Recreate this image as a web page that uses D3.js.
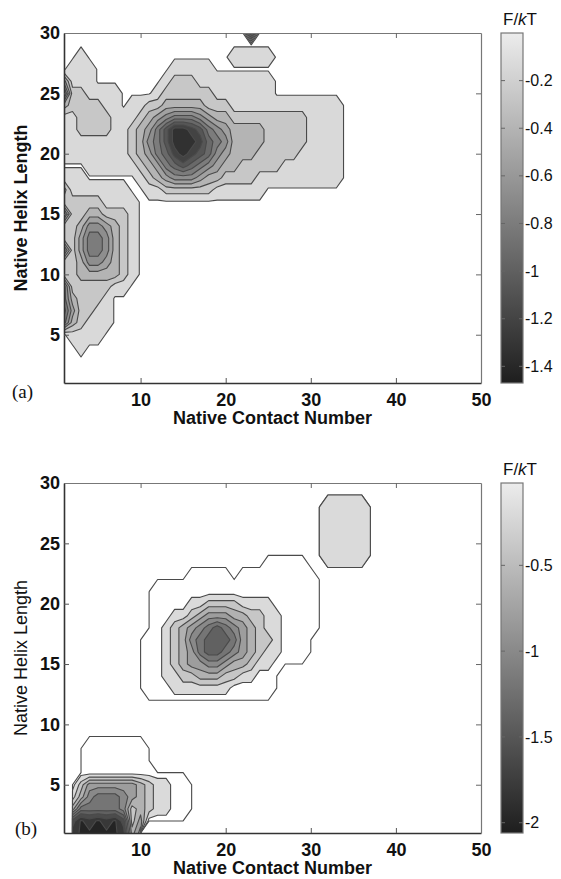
<!DOCTYPE html>
<html>
<head>
<meta charset="utf-8">
<script src="https://cdn.jsdelivr.net/npm/d3@7"></script>
<style>
  body { margin: 0; background: #fff; }
  svg text { font-family: "Liberation Sans", Arial, sans-serif; }
</style>
</head>
<body>
<svg id="chart" width="561" height="879"></svg>
<script>
// axes: native contact number 1..50, native helix length 1..30
const xTicks = [10, 20, 30, 40, 50];
const yTicks = [5, 10, 15, 20, 25, 30];

// ---- panel (a) ----
// contour levels of F/kT (top level first)
const levelsA = [-0.134, -0.267, -0.401, -0.535, -0.668, -0.802, -0.936, -1.069, -1.203, -1.336];
const rangeA = [-1.47, 0];
const cbTicksA = [-0.2, -0.4, -0.6, -0.8, -1, -1.2, -1.4];
const emptyA = -0.122;   // empty bins sit just above the top level
// one row per helix length, 30 at the top; [first contact number, band digits]
// a digit k means the bin lies between level k and level k+1
const gridA = [
  [[23, "6"]],
  [],
  [[3, "0"], [21, "00000"]],
  [[2, "000"], [14, "00000"]],
  [[1, "3000"], [13, "0111000000000"]],
  [[1, "6110000"], [12, "01111110000000"]],
  [[1, "2111100"], [9, "0011222221110000000000000"]],
  [[1, "001111000123455543221111111110000"]],
  [[1, "001111001235799875432222111110000"]],
  [[1, "000000001245799986542222111110000"]],
  [[1, "000000001235689876432221111100000"]],
  [[4, "000000123567654322111110000000"]],
  [[1, "000"], [10, "012344432211110000000000"]],
  [[1, "20000000"], [11, "00111111000000"]],
  [[1, "111110000"]],
  [[1, "511221110"]],
  [[1, "112443210"]],
  [[1, "113554210"]],
  [[1, "513554210"]],
  [[1, "112443210"]],
  [[1, "112222210"]],
  [[1, "51111100"]],
  [[1, "521110"]],
  [[1, "631100"]],
  [[1, "521000"]],
  [[2, "0000"]],
  [[3, "0"]],
  [],
  [],
  []
];

// ---- panel (b) ----
const levelsB = [-0.02, -0.2, -0.4, -0.6, -0.8, -1.0, -1.2, -1.4, -1.6, -1.8, -2.0];
const rangeB = [-2.06, -0.02];
const cbTicksB = [-0.5, -1, -1.5, -2];
const emptyB = 1000;     // empty bins: no data, edge runs through the data points
const gridB = [
  [],
  [[32, "11111"]],
  [[31, "1111111"]],
  [[31, "1111111"]],
  [[31, "1111111"]],
  [[31, "1111111"]],
  [[25, "00000"], [31, "1111111"]],
  [[16, "00000"], [22, "000000000"], [32, "11111"]],
  [[12, "00000000000000000000"]],
  [[11, "000000000000000000000"]],
  [[11, "000001122221111000000"]],
  [[11, "000112344433221100000"]],
  [[11, "001234567654321100000"]],
  [[10, "000123567776432210000"]],
  [[10, "000123467765432110000"]],
  [[10, "00012344554332110000"]],
  [[10, "00011223332211000"]],
  [[10, "00001111111000000"]],
  [[11, "000000000000000"]],
  [],
  [],
  [[4, "0000000"]],
  [[3, "000000000"]],
  [[3, "000000000"]],
  [[3, "0000000000000"]],
  [[2, "024444443211000"]],
  [[2, "135666543211000"]],
  [[2, "366666523211000"]],
  [[2, "8a9a9a82400000"]],
  [[2, "9aaaaa935"]]
];

const FONT = "Liberation Sans, Arial, sans-serif";

function gridValues(rows, levels, zMin, empty) {
  const values = new Array(50 * 30).fill(empty);
  rows.forEach((segs, j) => {
    segs.forEach(([x0, bands]) => {
      [...bands].forEach((ch, k) => {
        if (ch === ".") return;
        const b = parseInt(ch, 16);
        const lower = b + 1 < levels.length ? levels[b + 1] : zMin;
        values[j * 50 + (x0 - 1 + k)] = (levels[b] + lower) / 2;
      });
    });
  });
  return values;
}

function drawPanel(svg, p) {
  const top = p.top, bottom = p.top + 350;
  const x = d3.scaleLinear().domain([1, 50]).range([64, 481]);
  const y = d3.scaleLinear().domain([1, 30]).range([bottom, top]);
  const gray = d3.scaleLinear().domain(p.range).range(["#1e1e1e", "#ececec"]);
  const fillFor = l => l >= p.range[1] ? "#ffffff" : gray(l);

  // filled contours (work on -F so that deeper wells are "higher")
  const values = gridValues(p.grid, p.levels, p.range[0], p.empty);
  const contours = d3.contours()
    .size([50, 30])
    .thresholds(p.levels.map(l => -l))(values.map(v => -v));

  const path = d3.geoPath(d3.geoTransform({
    point: function (u, v) { this.stream.point(x(u + 0.5), y(30.5 - v)); }
  }));

  svg.append("clipPath").attr("id", "clip" + p.name)
    .append("rect")
    .attr("x", 64).attr("y", top)
    .attr("width", 417).attr("height", 350);

  svg.append("g")
    .attr("clip-path", `url(#clip${p.name})`)
    .selectAll("path")
    .data(contours)
    .join("path")
    .attr("d", path)
    .attr("fill", (d, i) => fillFor(p.levels[i]))
    .attr("stroke", "#4a4a4a")
    .attr("stroke-width", 1.1)
    .attr("stroke-linejoin", "round");

  // axes, MATLAB style: ticks inside, box all round
  const xAxis = d3.axisBottom(x).tickValues(xTicks)
    .tickSizeInner(-5).tickSizeOuter(0).tickPadding(10);
  const yAxis = d3.axisLeft(y).tickValues(yTicks)
    .tickSizeInner(-5).tickSizeOuter(0).tickPadding(4);
  const xTop = d3.axisTop(x).tickValues(xTicks.slice(0, -1))
    .tickSizeInner(-5).tickSizeOuter(0).tickFormat("");
  const yRight = d3.axisRight(y).tickValues(yTicks.slice(0, -1))
    .tickSizeInner(-5).tickSizeOuter(0).tickFormat("");

  const gx = svg.append("g").attr("transform", `translate(0,${bottom})`).call(xAxis);
  const gy = svg.append("g").attr("transform", "translate(64,0)").call(yAxis);
  const gt = svg.append("g").attr("transform", `translate(0,${top})`).call(xTop);
  const gr = svg.append("g").attr("transform", "translate(481,0)").call(yRight);

  [gx, gy].forEach(g => {
    g.attr("font-size", 18).attr("font-family", FONT).attr("font-weight", "bold");
    g.select(".domain").attr("stroke", "#333").attr("stroke-width", 1.6);
    g.selectAll(".tick line").attr("stroke", "#555");
    g.selectAll(".tick text").attr("fill", "#111");
  });
  [gt, gr].forEach(g => {
    g.select(".domain").attr("stroke", "#777").attr("stroke-width", 1.2);
    g.selectAll(".tick line").attr("stroke", "#666");
  });

  // axis titles
  svg.append("text")
    .attr("x", 272.5).attr("y", bottom + 41)
    .attr("text-anchor", "middle")
    .attr("font-size", 18).attr("font-weight", "bold")
    .attr("fill", "#111")
    .text("Native Contact Number");

  svg.append("text")
    .attr("transform", `translate(27,${top + 175}) rotate(-90)`)
    .attr("text-anchor", "middle")
    .attr("font-size", 18).attr("font-weight", p.yBold ? "bold" : "normal")
    .attr("fill", "#111")
    .text("Native Helix Length");

  svg.append("text")
    .attr("x", p.letterX).attr("y", p.letterY)
    .attr("font-size", 19)
    .style("font-family", "Liberation Serif, Times New Roman, serif")
    .attr("fill", "#111")
    .text(p.letter);

  // colorbar
  const cb = d3.scaleLinear().domain(p.range).range([bottom, top]);
  const grad = svg.append("linearGradient")
    .attr("id", "grad" + p.name)
    .attr("x1", 0).attr("y1", 0).attr("x2", 0).attr("y2", 1);
  grad.append("stop").attr("offset", 0).attr("stop-color", gray(p.range[1]));
  grad.append("stop").attr("offset", 1).attr("stop-color", gray(p.range[0]));

  svg.append("rect")
    .attr("x", 501).attr("y", top)
    .attr("width", 22).attr("height", 350)
    .attr("fill", `url(#grad${p.name})`)
    .attr("stroke", "#777").attr("stroke-width", 1.2);

  const cbt = svg.append("g").selectAll("g")
    .data(p.cbTicks)
    .join("g")
    .attr("transform", d => `translate(0,${cb(d)})`);
  cbt.append("line").attr("x1", 501).attr("x2", 505).attr("stroke", "#666");
  cbt.append("line").attr("x1", 519).attr("x2", 523).attr("stroke", "#666");
  cbt.append("text")
    .attr("x", 525).attr("dy", "0.35em")
    .attr("font-size", 16).attr("fill", "#111")
    .text(d => String(d));

  const title = svg.append("text")
    .attr("x", 503).attr("y", top - 8)
    .attr("font-size", 17).attr("fill", "#111");
  title.append("tspan").text("F/");
  title.append("tspan").attr("font-style", "italic").text("k");
  title.append("tspan").text("T");
}

const svg = d3.select("#chart");

drawPanel(svg, {
  name: "a", top: 33, levels: levelsA, range: rangeA, cbTicks: cbTicksA,
  empty: emptyA, grid: gridA, yBold: true,
  letter: "(a)", letterX: 12, letterY: 398
});

drawPanel(svg, {
  name: "b", top: 483, levels: levelsB, range: rangeB, cbTicks: cbTicksB,
  empty: emptyB, grid: gridB, yBold: false,
  letter: "(b)", letterX: 15, letterY: 835
});
</script>
</body>
</html>
